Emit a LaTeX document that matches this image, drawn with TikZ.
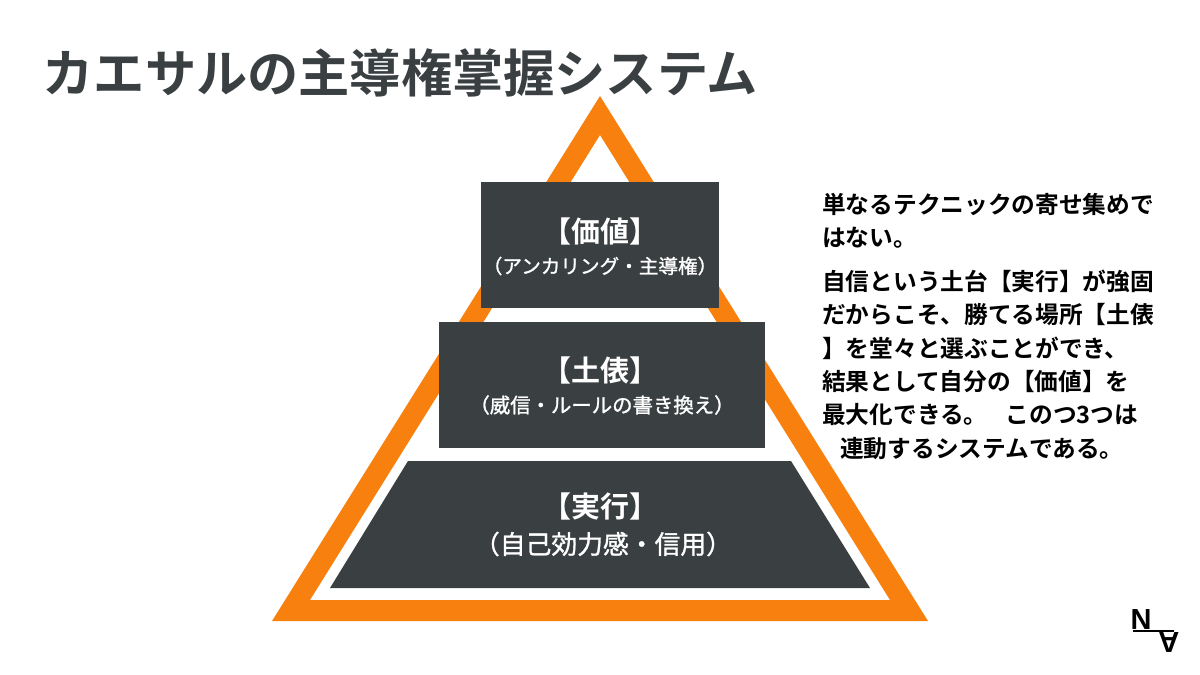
\documentclass[tikz,border=0pt]{standalone}
\usepackage{fontspec}
\setmainfont{Noto Sans CJK JP}[BoldFont={Noto Sans CJK JP Bold}]
\newfontfamily\medfont{Noto Sans CJK JP}[FakeBold=1.2]
\setsansfont{Liberation Sans}
\definecolor{slate}{HTML}{3A4042}
\definecolor{tri}{HTML}{F7800F}
\tikzset{
  lay/.style={fill=slate,draw=none},
  laytext/.style={text=white,align=center,inner sep=0pt},
  bodytext/.style={anchor=north west,inner sep=0pt,align=left,text=black,font=\bfseries\fontsize{23.7}{33.4}\selectfont},
}
\begin{document}
\begin{tikzpicture}[x=1pt,y=-1pt]
\useasboundingbox (0,0) rectangle (1200,675);
\fill[white] (0,0) rectangle (1200,675);
\node[anchor=west,inner sep=0pt,text=slate,font=\bfseries\fontsize{51.2}{56}\selectfont] (title) at (42.5,73) {カエサルの主導権掌握システム};
% orange triangle
\fill[tri,even odd rule] (272,621) -- (600,96) -- (928,621) -- cycle
  (310,600) -- (890,600) -- (600,135) -- cycle;
% layers
\fill[lay] (481,182) rectangle (719,308);
\fill[lay] (439,322) rectangle (765,448);
\fill[lay] (330,588) -- (408,461) -- (791,461) -- (870,588) -- cycle;
\node[laytext,font=\fontsize{29}{32}\selectfont\bfseries] (v1) at (600,231) {【価値】};
\node[laytext,font=\fontsize{19.6}{24}\selectfont\medfont] (v2) at (600,266) {（アンカリング・主導権）};
\node[laytext,font=\fontsize{29}{32}\selectfont\bfseries] (d1) at (600,370) {【土俵】};
\node[laytext,font=\fontsize{20.4}{24}\selectfont\medfont] (d2) at (602,405) {（威信・ルールの書き換え）};
\node[laytext,font=\fontsize{29}{32}\selectfont\bfseries] (j1) at (600,506) {【実行】};
\node[laytext,font=\fontsize{25.8}{30}\selectfont\medfont] (j2) at (603,544) {（自己効力感・信用）};
% text
\node[bodytext] (t1) at (822,193) {単なるテクニックの寄せ集めで\\はない。};
\node[bodytext] (t2) at (822,269.5) {自信という土台【実行】が強固\\だからこそ、勝てる場所【土俵\\】を堂々と選ぶことができ、\\結果として自分の【価値】を\\最大化できる。\hspace{18pt}このつ3つは\\\hspace{18pt}連動するシステムである。};
% logo
\node[inner sep=0pt,font=\sffamily\bfseries\fontsize{29}{29}\selectfont] (logoN) at (1141,620) {N};
\node[inner sep=0pt,rotate=180,font=\sffamily\bfseries\fontsize{29}{29}\selectfont] (logoA) at (1169,642) {A};
\draw[line width=1.8pt] (1133,631) -- (1174,631);
\end{tikzpicture}
\end{document}
